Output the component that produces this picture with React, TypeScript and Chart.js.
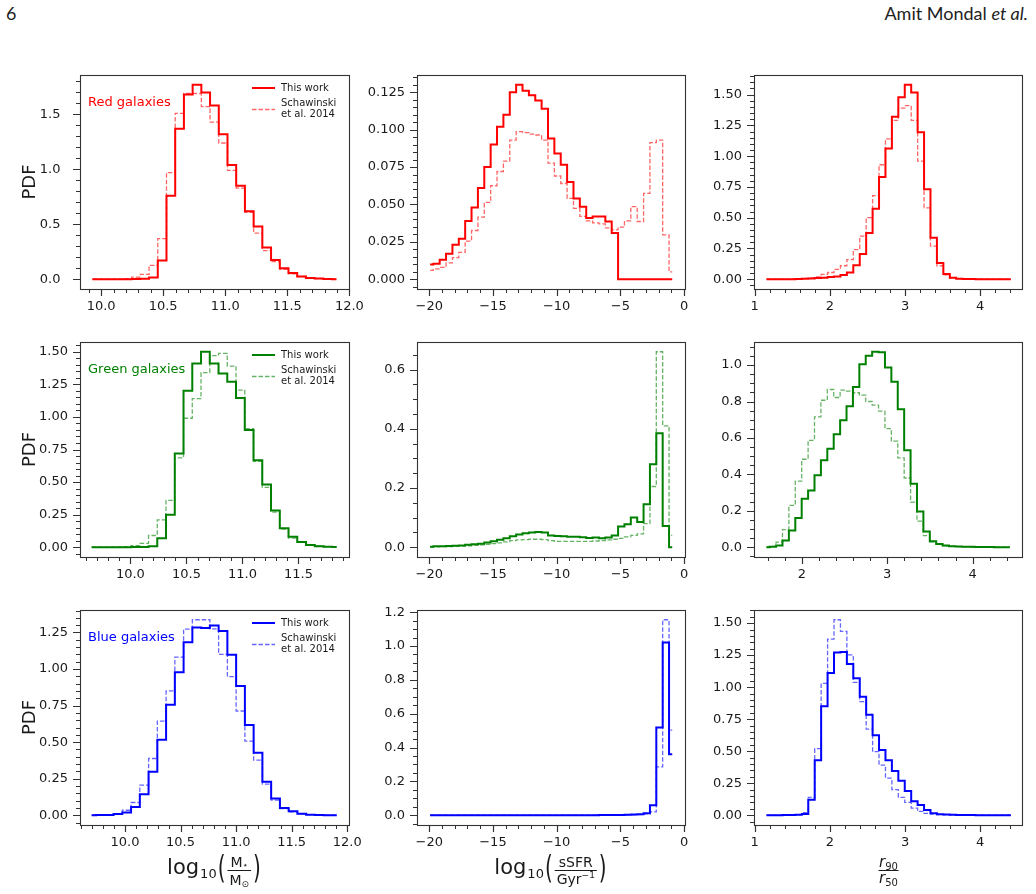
import React, { useEffect, useRef } from "react";
import { Chart, registerables } from "chart.js";

Chart.register(...registerables);

// ---------------- DATA ----------------
// log10 stellar mass: first bin centre and bin width per row
const redMassStart = 9.93;
const redMassBin = 0.0702;
const greenMassStart = 9.654;
const greenMassBin = 0.0781;
const blueMassStart = 9.70;
const blueMassBin = 0.0788;
// log10 sSFR bins
const ssfrStart = -19.93;
const ssfrBin = 0.5;
// concentration r90/r50 bins
const concStart = 1.156;
const concBin = 0.0856;
const greenConcStart = 1.586;
const greenConcBin = 0.075;

const redMassThis = [0, 0, 0, 0, 0.001, 0.002, 0.005, 0.015, 0.17, 0.76, 1.37, 1.68, 1.77, 1.70, 1.58, 1.32, 1.04, 0.85, 0.62, 0.48, 0.29, 0.175, 0.10, 0.058, 0.025, 0.012, 0.006, 0.003, 0.001];
const redMassSchawinski = [0, 0, 0, 0.002, 0.005, 0.02, 0.045, 0.127, 0.37, 0.97, 1.51, 1.69, 1.69, 1.57, 1.43, 1.24, 0.99, 0.83, 0.61, 0.42, 0.26, 0.16, 0.09, 0.05, 0.025, 0.012, 0.006, 0.003, 0.001];

const redSsfrThis = [0.0098, 0.0104, 0.013, 0.017, 0.023, 0.027, 0.039, 0.048, 0.061, 0.075, 0.090, 0.102, 0.110, 0.125, 0.130, 0.126, 0.123, 0.1195, 0.114, 0.094, 0.084, 0.0765, 0.065, 0.054, 0.0485, 0.041, 0.042, 0.042, 0.0386, 0.031, 0, 0, 0, 0, 0, 0, 0, 0, 0];
const redSsfrSchawinski = [0.006, 0.007, 0.008, 0.011, 0.0145, 0.018, 0.0255, 0.0326, 0.0415, 0.0514, 0.0625, 0.072, 0.079, 0.093, 0.0986, 0.098, 0.097, 0.0964, 0.093, 0.0776, 0.069, 0.064, 0.054, 0.0474, 0.042, 0.039, 0.0377, 0.037, 0.0343, 0.033, 0.0348, 0.039, 0.0485, 0.0386, 0.0574, 0.0913, 0.093, 0.0297, 0.0049];

const redConcThis = [0, 0, 0, 0, 0.001, 0.002, 0.004, 0.006, 0.010, 0.013, 0.018, 0.022, 0.035, 0.054, 0.113, 0.205, 0.375, 0.573, 0.83, 1.062, 1.32, 1.478, 1.58, 1.516, 1.195, 0.732, 0.338, 0.132, 0.043, 0.013, 0.005, 0.003, 0.002, 0.001, 0, 0, 0, 0, 0];
const redConcSchawinski = [0, 0, 0, 0, 0.002, 0.004, 0.008, 0.012, 0.02, 0.04, 0.055, 0.08, 0.11, 0.16, 0.24, 0.35, 0.50, 0.68, 0.93, 1.14, 1.29, 1.39, 1.41, 1.29, 0.96, 0.58, 0.27, 0.11, 0.035, 0.012, 0.006, 0.003, 0.002, 0.001, 0, 0, 0, 0, 0];

const greenMassThis = [0, 0, 0, 0, 0, 0.001, 0.002, 0.008, 0.069, 0.25, 0.72, 1.20, 1.41, 1.50, 1.41, 1.333, 1.27, 1.146, 0.90, 0.667, 0.482, 0.282, 0.146, 0.08, 0.041, 0.018, 0.008, 0.003, 0.001];
const greenMassSchawinski = [0, 0, 0, 0.002, 0.004, 0.013, 0.03, 0.09, 0.21, 0.36, 0.685, 0.99, 1.14, 1.34, 1.47, 1.487, 1.39, 1.205, 0.91, 0.66, 0.46, 0.27, 0.14, 0.07, 0.04, 0.02, 0.01, 0.004, 0.001];

const greenSsfrThis = [0.002, 0.003, 0.003, 0.004, 0.005, 0.006, 0.008, 0.01, 0.012, 0.016, 0.02, 0.025, 0.03, 0.037, 0.043, 0.047, 0.05, 0.051, 0.05, 0.04, 0.038, 0.037, 0.035, 0.035, 0.034, 0.031, 0.033, 0.03, 0.033, 0.04, 0.07, 0.078, 0.10, 0.085, 0.145, 0.28, 0.385, 0.072, 0];
const greenSsfrSchawinski = [0.001, 0.001, 0.002, 0.002, 0.003, 0.004, 0.005, 0.006, 0.008, 0.01, 0.012, 0.015, 0.018, 0.022, 0.025, 0.026, 0.027, 0.027, 0.026, 0.022, 0.02, 0.02, 0.02, 0.02, 0.02, 0.02, 0.021, 0.022, 0.025, 0.027, 0.03, 0.035, 0.04, 0.045, 0.08, 0.205, 0.66, 0.41, 0.04];

const greenConcThis = [0, 0.003, 0.01, 0.037, 0.092, 0.16, 0.266, 0.312, 0.395, 0.477, 0.541, 0.62, 0.697, 0.774, 0.88, 1.004, 1.051, 1.073, 1.07, 0.987, 0.908, 0.758, 0.532, 0.349, 0.196, 0.086, 0.033, 0.018, 0.009, 0.006, 0.004, 0.003, 0.002, 0.001, 0.001, 0.001, 0, 0, 0];
const greenConcSchawinski = [0, 0.005, 0.028, 0.097, 0.23, 0.363, 0.483, 0.587, 0.716, 0.807, 0.866, 0.822, 0.862, 0.857, 0.848, 0.835, 0.80, 0.78, 0.747, 0.651, 0.582, 0.49, 0.38, 0.248, 0.143, 0.064, 0.03, 0.016, 0.008, 0.005, 0.003, 0.002, 0.001, 0.001, 0, 0, 0, 0, 0];

const blueMassThis = [0, 0.001, 0.002, 0.009, 0.018, 0.057, 0.144, 0.297, 0.516, 0.756, 0.978, 1.184, 1.284, 1.28, 1.298, 1.261, 1.097, 0.884, 0.617, 0.427, 0.229, 0.114, 0.05, 0.027, 0.01, 0.003, 0.001, 0, 0];
const blueMassSchawinski = [0, 0.001, 0.003, 0.008, 0.034, 0.087, 0.206, 0.388, 0.644, 0.85, 1.081, 1.273, 1.337, 1.337, 1.275, 1.10, 0.948, 0.713, 0.507, 0.377, 0.213, 0.103, 0.046, 0.023, 0.009, 0.004, 0.002, 0.001, 0];

const blueSsfrThis = [0, 0, 0, 0, 0, 0, 0, 0, 0, 0, 0, 0, 0, 0, 0, 0, 0, 0, 0, 0, 0, 0, 0, 0, 0, 0.0005, 0.0005, 0.001, 0.001, 0.001, 0.002, 0.003, 0.004, 0.006, 0.012, 0.059, 0.519, 1.02, 0.36];
const blueSsfrSchawinski = [0, 0, 0, 0, 0, 0, 0, 0, 0, 0, 0, 0, 0, 0, 0, 0, 0, 0, 0, 0, 0, 0, 0, 0, 0, 0, 0, 0, 0.0005, 0.001, 0.001, 0.002, 0.002, 0.004, 0.008, 0.02, 0.286, 1.155, 0.503];

const blueConcThis = [0, 0, 0, 0.001, 0.002, 0.004, 0.01, 0.12, 0.43, 0.85, 1.11, 1.27, 1.275, 1.18, 1.07, 0.925, 0.785, 0.625, 0.51, 0.43, 0.345, 0.27, 0.19, 0.11, 0.08, 0.04, 0.015, 0.008, 0.005, 0.003, 0.002, 0.001, 0.001, 0, 0, 0, 0, 0, 0];
const blueConcSchawinski = [0, 0, 0, 0.001, 0.002, 0.005, 0.02, 0.14, 0.52, 1.03, 1.375, 1.526, 1.435, 1.252, 1.038, 0.887, 0.673, 0.496, 0.391, 0.29, 0.2, 0.14, 0.10, 0.055, 0.03, 0.015, 0.008, 0.005, 0.003, 0.002, 0.001, 0, 0, 0, 0, 0, 0, 0, 0];

// tick labels
const massTicksWide = [10.0, 10.5, 11.0, 11.5, 12.0];
const massTicksNarrow = [10.0, 10.5, 11.0, 11.5];
const ssfrTicks = [-20, -15, -10, -5, 0];
const concTicks = [1, 2, 3, 4];
const greenConcTicks = [2, 3, 4];
const redMassYTicks = [0, 0.5, 1.0, 1.5];
const redSsfrYTicks = [0, 0.025, 0.05, 0.075, 0.1, 0.125];
const quarterTo150 = [0, 0.25, 0.5, 0.75, 1.0, 1.25, 1.5];
const quarterTo125 = [0, 0.25, 0.5, 0.75, 1.0, 1.25];
const greenSsfrYTicks = [0, 0.2, 0.4, 0.6];
const greenConcYTicks = [0, 0.2, 0.4, 0.6, 0.8, 1.0];
const blueSsfrYTicks = [0, 0.2, 0.4, 0.6, 0.8, 1.0, 1.2];

const legendThis = "This work";
const legendSchawinski = ["Schawinski", "et al. 2014"];

// ---------------- STYLE ----------------
const PAD_L = 80;
const PAD_T = 12;
const PAD_R = 22;
const PAD_B = 68;
const FONT = '"DejaVu Sans", sans-serif';
const TEXT = "#1a1a1a";
const SPINE = "#333333";
const RED = "#ff0000";
const RED_D = "rgba(255,0,0,0.6)";
const GREEN = "#008000";
const GREEN_D = "rgba(0,128,0,0.6)";
const BLUE = "#0000ff";
const BLUE_D = "rgba(0,0,255,0.6)";

type Cfg = {
  box: number[];
  xMin: number; xMax: number; xTicks: number[]; xMinor: number; xDec: number;
  yTicks: number[]; yMinor: number; yDec: number;
  start: number; bin: number;
  thisWork: number[]; schawinski: number[];
  color: string; dash: string; yGap: number;
  note?: string; pdf?: boolean; xLabel?: string;
};

const COL = [[80, 350], [417, 686], [754, 1023]];
const ROW = [[75, 289], [342, 557], [610, 825]];
const box = (r: number, c: number) => [COL[c][0], ROW[r][0], COL[c][1], ROW[r][1]];

const panels: Cfg[] = [
  { box: box(0, 0), xMin: 9.83, xMax: 12.005, xTicks: massTicksWide, xMinor: 0.1, xDec: 1, yTicks: redMassYTicks, yMinor: 0.1, yDec: 1, start: redMassStart, bin: redMassBin, thisWork: redMassThis, schawinski: redMassSchawinski, color: RED, dash: RED_D, yGap: 19.5, note: "Red galaxies", pdf: true },
  { box: box(0, 1), xMin: -20.96, xMax: 0.15, xTicks: ssfrTicks, xMinor: 1, xDec: 0, yTicks: redSsfrYTicks, yMinor: 0.005, yDec: 3, start: ssfrStart, bin: ssfrBin, thisWork: redSsfrThis, schawinski: redSsfrSchawinski, color: RED, dash: RED_D, yGap: 12 },
  { box: box(0, 2), xMin: 0.99, xMax: 4.57, xTicks: concTicks, xMinor: 0.2, xDec: 0, yTicks: quarterTo150, yMinor: 0.05, yDec: 2, start: concStart, bin: concBin, thisWork: redConcThis, schawinski: redConcSchawinski, color: RED, dash: RED_D, yGap: 12 },
  { box: box(1, 0), xMin: 9.55, xMax: 11.96, xTicks: massTicksNarrow, xMinor: 0.1, xDec: 1, yTicks: quarterTo150, yMinor: 0.05, yDec: 2, start: greenMassStart, bin: greenMassBin, thisWork: greenMassThis, schawinski: greenMassSchawinski, color: GREEN, dash: GREEN_D, yGap: 12, note: "Green galaxies", pdf: true },
  { box: box(1, 1), xMin: -20.96, xMax: 0.15, xTicks: ssfrTicks, xMinor: 1, xDec: 0, yTicks: greenSsfrYTicks, yMinor: 0.05, yDec: 1, start: ssfrStart, bin: ssfrBin, thisWork: greenSsfrThis, schawinski: greenSsfrSchawinski, color: GREEN, dash: GREEN_D, yGap: 12 },
  { box: box(1, 2), xMin: 1.44, xMax: 4.59, xTicks: greenConcTicks, xMinor: 0.2, xDec: 0, yTicks: greenConcYTicks, yMinor: 0.05, yDec: 1, start: greenConcStart, bin: greenConcBin, thisWork: greenConcThis, schawinski: greenConcSchawinski, color: GREEN, dash: GREEN_D, yGap: 12 },
  { box: box(2, 0), xMin: 9.595, xMax: 12.025, xTicks: massTicksWide, xMinor: 0.1, xDec: 1, yTicks: quarterTo125, yMinor: 0.05, yDec: 2, start: blueMassStart, bin: blueMassBin, thisWork: blueMassThis, schawinski: blueMassSchawinski, color: BLUE, dash: BLUE_D, yGap: 12, note: "Blue galaxies", pdf: true, xLabel: "mass" },
  { box: box(2, 1), xMin: -20.96, xMax: 0.15, xTicks: ssfrTicks, xMinor: 1, xDec: 0, yTicks: blueSsfrYTicks, yMinor: 0.05, yDec: 1, start: ssfrStart, bin: ssfrBin, thisWork: blueSsfrThis, schawinski: blueSsfrSchawinski, color: BLUE, dash: BLUE_D, yGap: 12, xLabel: "ssfr" },
  { box: box(2, 2), xMin: 0.99, xMax: 4.57, xTicks: concTicks, xMinor: 0.2, xDec: 0, yTicks: quarterTo150, yMinor: 0.05, yDec: 2, start: concStart, bin: concBin, thisWork: blueConcThis, schawinski: blueConcSchawinski, color: BLUE, dash: BLUE_D, yGap: 12, xLabel: "conc" },
];

function ticksBetween(step: number, lo: number, hi: number): number[] {
  const out: number[] = [];
  for (let k = Math.ceil(lo / step - 1e-9); k * step <= hi + 1e-9; k++) out.push(Number((k * step).toFixed(6)));
  return out;
}

function fmt(v: number, dec: number): string {
  const s = Math.abs(v) < 1e-12 ? (0).toFixed(dec) : v.toFixed(dec);
  return s.replace("-", "\u2212");
}

function textW(ctx: CanvasRenderingContext2D, s: string, font: string): number {
  ctx.font = font;
  return ctx.measureText(s).width;
}

function paren(ctx: CanvasRenderingContext2D, ch: string, x: number, y: number) {
  ctx.save();
  ctx.translate(x, y);
  ctx.scale(1, 1.6);
  ctx.font = `20px ${FONT}`;
  ctx.textAlign = "left";
  ctx.textBaseline = "middle";
  ctx.fillText(ch, 0, 0);
  ctx.restore();
}

function baseSub(ctx: CanvasRenderingContext2D, base: string, sub: string, cx: number, baseline: number, baseFont: string, subFont: string, subDy: number) {
  const w1 = textW(ctx, base, baseFont);
  const w2 = textW(ctx, sub, subFont);
  const x0 = cx - (w1 + w2) / 2;
  ctx.textAlign = "left";
  ctx.textBaseline = "alphabetic";
  ctx.font = baseFont;
  ctx.fillText(base, x0, baseline);
  ctx.font = subFont;
  ctx.fillText(sub, x0 + w1, baseline + subDy);
}

function bar(ctx: CanvasRenderingContext2D, x1: number, x2: number, y: number) {
  ctx.save();
  ctx.strokeStyle = TEXT;
  ctx.lineWidth = 1;
  ctx.setLineDash([]);
  ctx.beginPath();
  ctx.moveTo(x1, y);
  ctx.lineTo(x2, y);
  ctx.stroke();
  ctx.restore();
}

function drawXLabel(ctx: CanvasRenderingContext2D, kind: string, cx: number, b: number) {
  ctx.fillStyle = TEXT;
  ctx.textAlign = "left";
  ctx.textBaseline = "alphabetic";
  const big = `14px ${FONT}`;
  const small = `9px ${FONT}`;
  if (kind === "mass" || kind === "ssfr") {
    const fLog = `21px ${FONT}`;
    const fSub = `13px ${FONT}`;
    const wLog = textW(ctx, "log", fLog);
    const w10 = textW(ctx, "10", fSub);
    const wPar = textW(ctx, "(", `20px ${FONT}`);
    let wNum: number;
    let wDen: number;
    if (kind === "mass") {
      wNum = textW(ctx, "M", big) + textW(ctx, "\u22c6", small);
      wDen = textW(ctx, "M", big) + textW(ctx, "\u2299", small);
    } else {
      wNum = textW(ctx, "sSFR", big);
      wDen = textW(ctx, "Gyr", big) + textW(ctx, "\u22121", small);
    }
    const wFrac = Math.max(wNum, wDen) + 4;
    const total = wLog + 1 + w10 + 1 + wPar + 2 + wFrac + 2 + wPar;
    let x = cx - 1 - total / 2;
    ctx.fillStyle = TEXT;
    ctx.textAlign = "left";
    ctx.textBaseline = "alphabetic";
    ctx.font = fLog;
    ctx.fillText("log", x, b + 49);
    x += wLog + 1;
    ctx.font = fSub;
    ctx.fillText("10", x, b + 53);
    x += w10 + 1;
    paren(ctx, "(", x, b + 45);
    x += wPar + 2;
    const fc = x + wFrac / 2;
    bar(ctx, x, x + wFrac, b + 45.5);
    if (kind === "mass") {
      baseSub(ctx, "M", "\u22c6", fc, b + 41.5, big, small, 1);
      baseSub(ctx, "M", "\u2299", fc, b + 59.5, big, small, 2);
    } else {
      ctx.font = big;
      ctx.textAlign = "center";
      ctx.fillText("sSFR", fc, b + 41.5);
      baseSub(ctx, "Gyr", "\u22121", fc, b + 58.5, big, small, -6);
    }
    x += wFrac + 2;
    paren(ctx, ")", x, b + 45);
  } else {
    const it = `italic 15px ${FONT}`;
    const sm = `10px ${FONT}`;
    baseSub(ctx, "r", "90", cx, b + 41.5, it, sm, 3);
    bar(ctx, cx - 10, cx + 10, b + 45.5);
    baseSub(ctx, "r", "50", cx, b + 58, it, sm, 3);
  }
}

function Panel({ cfg }: { cfg: Cfg }) {
  const ref = useRef<HTMLCanvasElement>(null);
  const [l, t, r, b] = cfg.box;
  const W = r - l + PAD_L + PAD_R;
  const H = b - t + PAD_T + PAD_B;

  useEffect(() => {
    const canvas = ref.current;
    if (!canvas) return;
    const maxV = Math.max(...cfg.thisWork, ...cfg.schawinski);
    const yMin = -0.05 * maxV;
    const yMax = 1.05 * maxV;
    const pts = (vals: number[]) => vals.map((v, i) => ({ x: cfg.start + i * cfg.bin, y: v }));
    const xMinorVals = ticksBetween(cfg.xMinor, cfg.xMin, cfg.xMax);
    const yMinorVals = ticksBetween(cfg.yMinor, yMin, yMax);

    const decor = {
      id: "decor",
      afterDraw(chart: any) {
        const ctx: CanvasRenderingContext2D = chart.ctx;
        const a = chart.chartArea;
        const xs = chart.scales.x;
        const ys = chart.scales.y;
        ctx.save();
        ctx.strokeStyle = SPINE;
        ctx.setLineDash([]);
        const drawX = (vals: number[], len: number, w: number) => {
          ctx.lineWidth = w;
          ctx.beginPath();
          vals.forEach((v) => {
            const p = Math.round(xs.getPixelForValue(v)) + 0.5;
            ctx.moveTo(p, a.bottom);
            ctx.lineTo(p, a.bottom + len);
          });
          ctx.stroke();
        };
        const drawY = (vals: number[], len: number, w: number) => {
          ctx.lineWidth = w;
          ctx.beginPath();
          vals.forEach((v) => {
            const p = Math.round(ys.getPixelForValue(v)) + 0.5;
            ctx.moveTo(a.left, p);
            ctx.lineTo(a.left - len, p);
          });
          ctx.stroke();
        };
        drawX(xMinorVals, 4, 1);
        drawX(cfg.xTicks, 7, 1.2);
        drawY(yMinorVals, 4, 1);
        drawY(cfg.yTicks, 7, 1.2);
        ctx.lineWidth = 1.1;
        ctx.strokeRect(a.left + 0.5, a.top + 0.5, a.right - a.left - 1, a.bottom - a.top);

        if (cfg.note) {
          // legend (left column only)
          const rx = a.right;
          const ty = a.top;
          ctx.strokeStyle = cfg.color;
          ctx.lineWidth = 2;
          ctx.beginPath();
          ctx.moveTo(rx - 98, ty + 13);
          ctx.lineTo(rx - 75, ty + 13);
          ctx.stroke();
          ctx.strokeStyle = cfg.dash;
          ctx.lineWidth = 1.3;
          ctx.setLineDash([4.5, 2]);
          ctx.beginPath();
          ctx.moveTo(rx - 98, ty + 34.5);
          ctx.lineTo(rx - 75, ty + 34.5);
          ctx.stroke();
          ctx.setLineDash([]);
          ctx.fillStyle = TEXT;
          ctx.font = `10px ${FONT}`;
          ctx.textAlign = "left";
          ctx.textBaseline = "middle";
          ctx.fillText(legendThis, rx - 69, ty + 13);
          ctx.fillText(legendSchawinski[0], rx - 69, ty + 28.7);
          ctx.fillText(legendSchawinski[1], rx - 69, ty + 39.7);

          ctx.fillStyle = cfg.color;
          ctx.font = `13px ${FONT}`;
          ctx.fillText(cfg.note, a.left + 8, a.top + 27.5);
        }
        if (cfg.pdf) {
          ctx.save();
          ctx.translate(a.left - 50, (a.top + a.bottom) / 2);
          ctx.rotate(-Math.PI / 2);
          ctx.fillStyle = TEXT;
          ctx.font = `18px ${FONT}`;
          ctx.textAlign = "center";
          ctx.textBaseline = "middle";
          ctx.fillText("PDF", 0, 0);
          ctx.restore();
        }
        if (cfg.xLabel) drawXLabel(ctx, cfg.xLabel, (a.left + a.right) / 2, a.bottom);
        ctx.restore();
      },
    };

    const tickFont = { family: FONT, size: 13, lineHeight: 1.2 };
    const chart = new Chart(canvas, {
      type: "line",
      data: {
        datasets: [
          { label: "Schawinski et al. 2014", data: pts(cfg.schawinski), borderColor: cfg.dash, borderWidth: 1.3, borderDash: [4.5, 2], stepped: "middle", pointRadius: 0, fill: false },
          { label: "This work", data: pts(cfg.thisWork), borderColor: cfg.color, borderWidth: 2, stepped: "middle", pointRadius: 0, fill: false },
        ],
      },
      options: {
        responsive: false,
        animation: false,
        events: [],
        layout: { padding: { left: 0, top: PAD_T, right: PAD_R, bottom: 0 } },
        plugins: { legend: { display: false }, tooltip: { enabled: false }, title: { display: false } },
        scales: {
          x: {
            type: "linear",
            min: cfg.xMin,
            max: cfg.xMax,
            grid: { display: false, drawTicks: false },
            border: { display: false },
            afterBuildTicks: (s: any) => { s.ticks = cfg.xTicks.map((v) => ({ value: v })); },
            afterFit: (s: any) => { s.height = PAD_B; s.paddingLeft = 0; s.paddingRight = 0; s.paddingTop = 0; s.paddingBottom = 0; },
            ticks: { padding: 10, autoSkip: false, maxRotation: 0, minRotation: 0, color: TEXT, font: tickFont, callback: (v: any) => fmt(Number(v), cfg.xDec) },
          },
          y: {
            type: "linear",
            min: yMin,
            max: yMax,
            grid: { display: false, drawTicks: false },
            border: { display: false },
            afterBuildTicks: (s: any) => { s.ticks = cfg.yTicks.map((v) => ({ value: v })); },
            afterFit: (s: any) => { s.width = PAD_L; s.paddingLeft = 0; s.paddingRight = 0; s.paddingTop = 0; s.paddingBottom = 0; },
            ticks: { padding: cfg.yGap, autoSkip: false, color: TEXT, font: tickFont, callback: (v: any) => fmt(Number(v), cfg.yDec) },
          },
        },
      },
      plugins: [decor],
    } as any);
    return () => chart.destroy();
  }, [cfg]);

  return (
    <canvas
      ref={ref}
      width={W}
      height={H}
      style={{ position: "absolute", left: l - PAD_L, top: t - PAD_T, width: W, height: H }}
    />
  );
}

export default function App() {
  return (
    <div style={{ position: "absolute", left: 0, top: 0, width: 1036, height: 894, overflow: "hidden", background: "#fff" }}>
      <div style={{ position: "absolute", left: 6, top: 2, font: "18px Lato, sans-serif", color: "#222" }}>6</div>
      <div style={{ position: "absolute", right: 8, top: 2, font: "18px Lato, sans-serif", color: "#222", whiteSpace: "nowrap" }}>
        Amit Mondal <i>et al.</i>
      </div>
      {panels.map((p, i) => (
        <Panel key={i} cfg={p} />
      ))}
    </div>
  );
}
